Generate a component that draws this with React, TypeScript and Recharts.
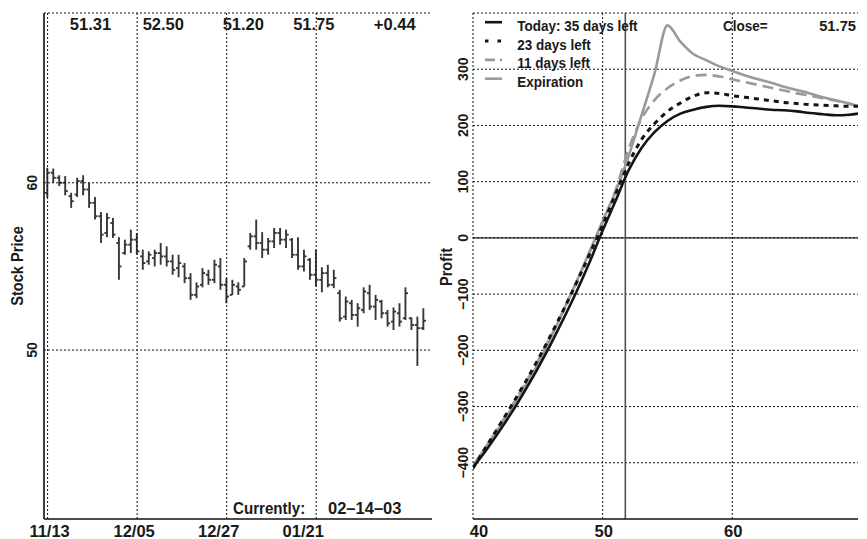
import React from 'react';
import { ComposedChart, Bar, Line, XAxis, YAxis, CartesianGrid, ReferenceLine, Legend } from 'recharts';

const FONT = '"Liberation Sans", Arial, Helvetica, sans-serif';

// ---------- Stock price panel data ----------
const dates = [
  '11/13', '11/14', '11/15', '11/18', '11/19', '11/20', '11/21', '11/22', '11/25', '11/26', '11/27', '11/29',
  '12/02', '12/03', '12/04', '12/05', '12/06', '12/09', '12/10', '12/11', '12/12', '12/13', '12/16', '12/17',
  '12/18', '12/19', '12/20', '12/23', '12/24', '12/26', '12/27', '12/30', '12/31', '01/02', '01/03', '01/06',
  '01/07', '01/08', '01/09', '01/10', '01/13', '01/14', '01/15', '01/16', '01/17', '01/21', '01/22', '01/23',
  '01/24', '01/27', '01/28', '01/29', '01/30', '01/31', '02/03', '02/04', '02/05', '02/06', '02/07', '02/10',
  '02/11', '02/12', '02/13', '02/14',
];
const highs = [
  60.9, 60.85, 60.45, 60.4, 59.4, 60.3, 60.45, 60.0, 59.15, 58.25, 58.2, 57.9, 56.75, 56.6, 57.2, 57.0,
  56.0, 55.9, 56.0, 56.4, 56.2, 55.7, 55.7, 55.2, 54.6, 54.05, 54.9, 54.8, 55.4, 55.5, 54.3, 54.2,
  54.05, 55.5, 57.0, 57.8, 57.05, 56.7, 57.3, 57.3, 57.2, 56.7, 56.75, 56.0, 55.5, 56.0, 54.95, 55.1,
  54.8, 53.6, 53.2, 53.0, 52.8, 53.75, 53.9, 53.3, 53.0, 52.4, 52.55, 52.8, 53.75, 51.95, 52.0, 52.5,
];
const lows = [
  59.1, 60.0, 59.8, 59.25, 58.5, 59.15, 59.25, 58.5, 57.8, 56.4, 56.75, 56.7, 54.2, 55.7, 55.8, 55.7,
  54.8, 55.1, 55.0, 55.1, 55.0, 54.5, 54.35, 54.0, 53.0, 53.1, 53.75, 53.9, 54.0, 53.6, 52.8, 53.3,
  53.3, 53.8, 56.0, 56.0, 55.5, 55.7, 56.1, 56.3, 56.1, 55.5, 54.8, 54.7, 54.2, 53.8, 53.45, 53.75,
  53.7, 51.7, 51.8, 51.8, 51.4, 52.2, 52.4, 51.8, 51.9, 51.4, 51.2, 51.4, 51.8, 51.2, 49.05, 51.2,
];
const opens = [
  59.4, 60.6, 60.3, 60.0, 59.2, 59.3, 60.1, 59.6, 58.8, 58.0, 57.0, 57.6, 56.4, 55.8, 56.3, 56.6,
  55.6, 55.3, 55.5, 55.8, 55.6, 55.3, 54.9, 55.0, 54.3, 53.3, 53.9, 54.5, 54.2, 55.0, 53.9, 53.3,
  53.8, 53.8, 56.2, 56.8, 56.4, 56.0, 56.5, 57.0, 56.6, 56.6, 55.7, 55.0, 55.4, 54.5, 54.2, 54.6,
  53.9, 53.4, 52.0, 52.8, 52.1, 52.4, 53.4, 52.6, 52.9, 52.2, 51.7, 52.2, 51.9, 51.9, 51.5, 51.31,
];
const closes = [
  60.6, 60.3, 60.0, 59.5, 58.9, 60.1, 59.6, 58.8, 58.0, 56.9, 57.9, 56.9, 55.0, 56.3, 56.6, 55.9,
  55.2, 55.7, 55.8, 55.6, 55.3, 54.8, 55.2, 54.3, 53.3, 53.8, 54.6, 54.2, 55.1, 53.9, 53.2, 53.9,
  53.6, 55.3, 56.8, 56.4, 56.0, 56.5, 57.0, 56.6, 56.9, 55.7, 55.0, 55.6, 54.5, 54.2, 54.6, 53.9,
  54.3, 51.9, 52.9, 52.1, 52.5, 53.5, 52.6, 53.0, 52.2, 51.6, 52.3, 51.7, 53.4, 51.5, 51.31, 51.75,
];
const dateTicks = ['11/13', '12/05', '12/27', '01/21'];
const priceTicks = [50, 60];
const priceDomain = [39.9, 70.15];
const currentDateLabel = '02–14–03';

// ---------- Profit panel data ----------
const underlying = [40, 41, 42, 43, 44, 45, 46, 47, 48, 49, 50, 51, 52, 53, 54, 55, 56, 57, 58, 59, 60, 61, 62, 63, 64, 65, 66, 67, 68, 69, 69.7];
const profitToday = [-408, -378, -345, -310, -272, -232, -189, -143, -95, -43, 13, 66, 120, 160, 188, 208, 221, 228, 233, 235, 234, 232, 230, 228, 227, 225, 222, 220, 218, 219, 221];
const profit23 = [-410, -372, -335, -297, -258, -217, -173, -127, -79, -29, 23, 78, 132, 175, 203, 225, 240, 252, 258, 257, 253, 250, 247, 244, 241, 239, 237, 236, 235, 234, 234];
const profit11 = [-406, -372, -336, -299, -260, -219, -175, -128, -78, -26, 28, 85, 158, 212, 245, 266, 280, 288, 290, 287, 282, 277, 272, 267, 262, 257, 253, 248, 244, 239, 234];
const profitExp = [-405, -372, -338, -303, -265, -224, -178, -128, -77, -24, 30, 82, 145, 218, 292, 378, 349, 327, 316, 305, 297, 289, 282, 276, 269, 263, 257, 250, 245, 239, 234];
const seriesNames = ['Today: 35 days left', '23 days left', '11 days left', 'Expiration'];
const profitTicks = [-400, -300, -200, -100, 0, 100, 200, 300, 400];
const profitDomain = [-500, 400];
const underlyingTicks = [40, 50, 60];
const underlyingDomain = [40, 69.7];
const closePrice = 51.75;

const stockData = dates.map((d, i) => ({
  i, date: d, range: [lows[i], highs[i]], high: highs[i], low: lows[i], open: opens[i], close: closes[i],
}));
const profitData = underlying.map((s, k) => ({
  s, today: profitToday[k], d23: profit23[k], d11: profit11[k], exp: profitExp[k],
}));

const seriesStyle = [
  { key: 'today', color: '#141414', dash: undefined as string | undefined, width: 2.6 },
  { key: 'd23', color: '#141414', dash: '5 5', width: 3 },
  { key: 'd11', color: '#9a9a9a', dash: '11 6', width: 2.6 },
  { key: 'exp', color: '#9a9a9a', dash: undefined as string | undefined, width: 2.6 },
];

const last = stockData.length - 1;
const change = closes[last] - closes[last - 1];
const summary = [
  opens[last].toFixed(2), highs[last].toFixed(2), lows[last].toFixed(2), closes[last].toFixed(2),
  (change >= 0 ? '+' : '') + change.toFixed(2),
];

const textStyle = { fontFamily: FONT, fontWeight: 700, fill: '#1a1a1a' } as const;
const GRID = '#111';

// Condensed bold text (horizontal squeeze along the text direction)
const CText = ({ x, y, size, sx = 0.87, anchor = 'start', rot = 0, children }: any) => (
  <text transform={`translate(${x},${y}) rotate(${rot}) scale(${sx},1)`} textAnchor={anchor} fontSize={size} style={textStyle}>
    {children}
  </text>
);

const OhlcShape = (props: any) => {
  const { x, y, width, height, payload } = props;
  if (x == null || y == null) return null;
  const top = Math.min(y, y + height);
  const h = Math.abs(height);
  const cx = x + width / 2;
  const span = payload.high - payload.low || 1;
  const toY = (v: number) => top + ((payload.high - v) / span) * h;
  return (
    <g stroke="#222" strokeWidth={1.9} opacity={0.9}>
      <line x1={cx} x2={cx} y1={top} y2={top + h} />
      <line x1={cx - 2.6} x2={cx} y1={toY(payload.open)} y2={toY(payload.open)} />
      <line x1={cx} x2={cx + 2.6} y1={toY(payload.close)} y2={toY(payload.close)} />
    </g>
  );
};

const DateTick = (props: any) => {
  const { x, payload, index } = props;
  return <CText x={x + 2 - 5 * index} y={536.5} size={16.5} sx={1} anchor="middle">{dates[payload.value]}</CText>;
};

const makeYTick = (baseX: number) => (props: any) => {
  const { y, payload } = props;
  if (payload.value === profitDomain[1]) return null;
  const label = payload.value < 0 ? '−' + Math.abs(payload.value) : String(payload.value);
  return <CText x={baseX} y={y} size={14} sx={1} anchor="middle" rot={-90}>{label}</CText>;
};

const UnderTick = (props: any) => {
  const { x, payload } = props;
  const dx = payload.value === underlyingDomain[0] ? 6 : 1;
  return <CText x={x + dx} y={536.5} size={16.5} sx={1} anchor="middle">{payload.value}</CText>;
};

const AxisTitle = ({ tx, ty, text }: { tx: number; ty: number; text: string }) => (
  <CText x={tx} y={ty} size={17} sx={0.86} anchor="middle" rot={-90}>{text}</CText>
);

const ProfitLegend = () => {
  const rowBase = [30.7, 49.6, 68.4, 87.2];
  return (
    <svg width={200} height={100} style={{ display: 'block', overflow: 'visible' }}>
      {seriesStyle.map((st, k) => (
        <g key={st.key}>
          <line x1={55} x2={72} y1={rowBase[k] - 8.5} y2={rowBase[k] - 8.5} stroke={st.color} strokeWidth={st.width}
            strokeDasharray={st.key === 'd23' ? '3.5 9' : st.key === 'd11' ? '10 5' : undefined} />
          <CText x={87.3} y={rowBase[k]} size={15.5} sx={0.87}>{seriesNames[k]}</CText>
        </g>
      ))}
    </svg>
  );
};

export default function App() {
  const dateTickIdx = dateTicks.map((d) => dates.indexOf(d));
  return (
    <div style={{ position: 'absolute', left: 0, top: 0, width: 867, height: 539, background: '#fff', overflow: 'hidden' }}>
      <div style={{ position: 'absolute', left: 0, top: 0 }}>
        <ComposedChart width={440} height={539} data={stockData} margin={{ top: 13, right: 8, left: 0, bottom: 0 }}>
          <XAxis type="number" dataKey="i" domain={[-0.6, 64.4]} ticks={dateTickIdx} tick={<DateTick />} tickLine={false}
            axisLine={{ stroke: '#111', strokeWidth: 1.6 }} height={20} allowDataOverflow interval={0} />
          <YAxis type="number" domain={priceDomain} ticks={priceTicks} width={44} tick={makeYTick(37)} tickLine={false}
            axisLine={{ stroke: '#111', strokeWidth: 1.6 }} allowDataOverflow label={<AxisTitle tx={23} ty={266} text="Stock Price" />} />
          {dateTickIdx.map((t) => (
            <ReferenceLine key={'x' + t} x={t} stroke={GRID} strokeDasharray="2 2" />
          ))}
          {[...priceTicks, priceDomain[1]].map((v) => (
            <ReferenceLine key={'y' + v} y={v} stroke={GRID} strokeDasharray="2 2" />
          ))}
          <Bar dataKey="range" barSize={6} shape={<OhlcShape />} isAnimationActive={false} />
        </ComposedChart>
      </div>

      <div style={{ position: 'absolute', left: 430, top: 0 }}>
        <ComposedChart width={437} height={539} data={profitData} margin={{ top: 13, right: 9, left: 0, bottom: 0 }}>
          <CartesianGrid stroke={GRID} strokeDasharray="2 2" strokeWidth={1} vertical={false} syncWithTicks />
          <XAxis type="number" dataKey="s" domain={underlyingDomain} ticks={underlyingTicks} tick={<UnderTick />} tickLine={false}
            axisLine={{ stroke: '#111', strokeWidth: 1.6 }} height={20} allowDataOverflow interval={0} />
          <YAxis type="number" domain={profitDomain} ticks={profitTicks} width={43} tick={makeYTick(38)} tickLine={false}
            axisLine={false} allowDataOverflow label={<AxisTitle tx={22} ty={267} text="Profit" />} />
          {underlyingTicks.map((t) => (
            <ReferenceLine key={'u' + t} x={t} stroke={GRID} strokeDasharray="2 2" />
          ))}
          <ReferenceLine y={0} stroke="#222" strokeWidth={1.3} />
          <ReferenceLine x={closePrice} stroke="#555" strokeWidth={1.6} />
          <Line type="monotone" dataKey="exp" name={seriesNames[3]} stroke={seriesStyle[3].color} strokeWidth={seriesStyle[3].width} dot={false} isAnimationActive={false} />
          <Line type="monotone" dataKey="d11" name={seriesNames[2]} stroke={seriesStyle[2].color} strokeWidth={seriesStyle[2].width} strokeDasharray={seriesStyle[2].dash} dot={false} isAnimationActive={false} />
          <Line type="monotone" dataKey="d23" name={seriesNames[1]} stroke={seriesStyle[1].color} strokeWidth={seriesStyle[1].width} strokeDasharray={seriesStyle[1].dash} dot={false} isAnimationActive={false} />
          <Line type="monotone" dataKey="today" name={seriesNames[0]} stroke={seriesStyle[0].color} strokeWidth={seriesStyle[0].width} dot={false} isAnimationActive={false} />
          <Legend layout="horizontal" verticalAlign="middle" align="center" content={<ProfitLegend />}
            wrapperStyle={{ position: 'absolute', left: 0, top: 0, width: 200, height: 100 }} />
        </ComposedChart>
      </div>

      <svg width={867} height={539} style={{ position: 'absolute', left: 0, top: 0, pointerEvents: 'none' }}>
        {summary.map((v, k) => (
          <CText key={k} x={[90.5, 163.3, 243.3, 313.8, 394.7][k]} y={30} size={16.5} sx={1} anchor="middle">{v}</CText>
        ))}
        <CText x={233} y={514} size={17} sx={0.89}>Currently:</CText>
        <CText x={328} y={514} size={16.5} sx={1}>{currentDateLabel}</CText>
        <CText x={723} y={30.7} size={15.5} sx={0.87}>Close=</CText>
        <CText x={856} y={30.7} size={15.5} sx={0.95} anchor="end">{closePrice.toFixed(2)}</CText>
      </svg>
    </div>
  );
}
